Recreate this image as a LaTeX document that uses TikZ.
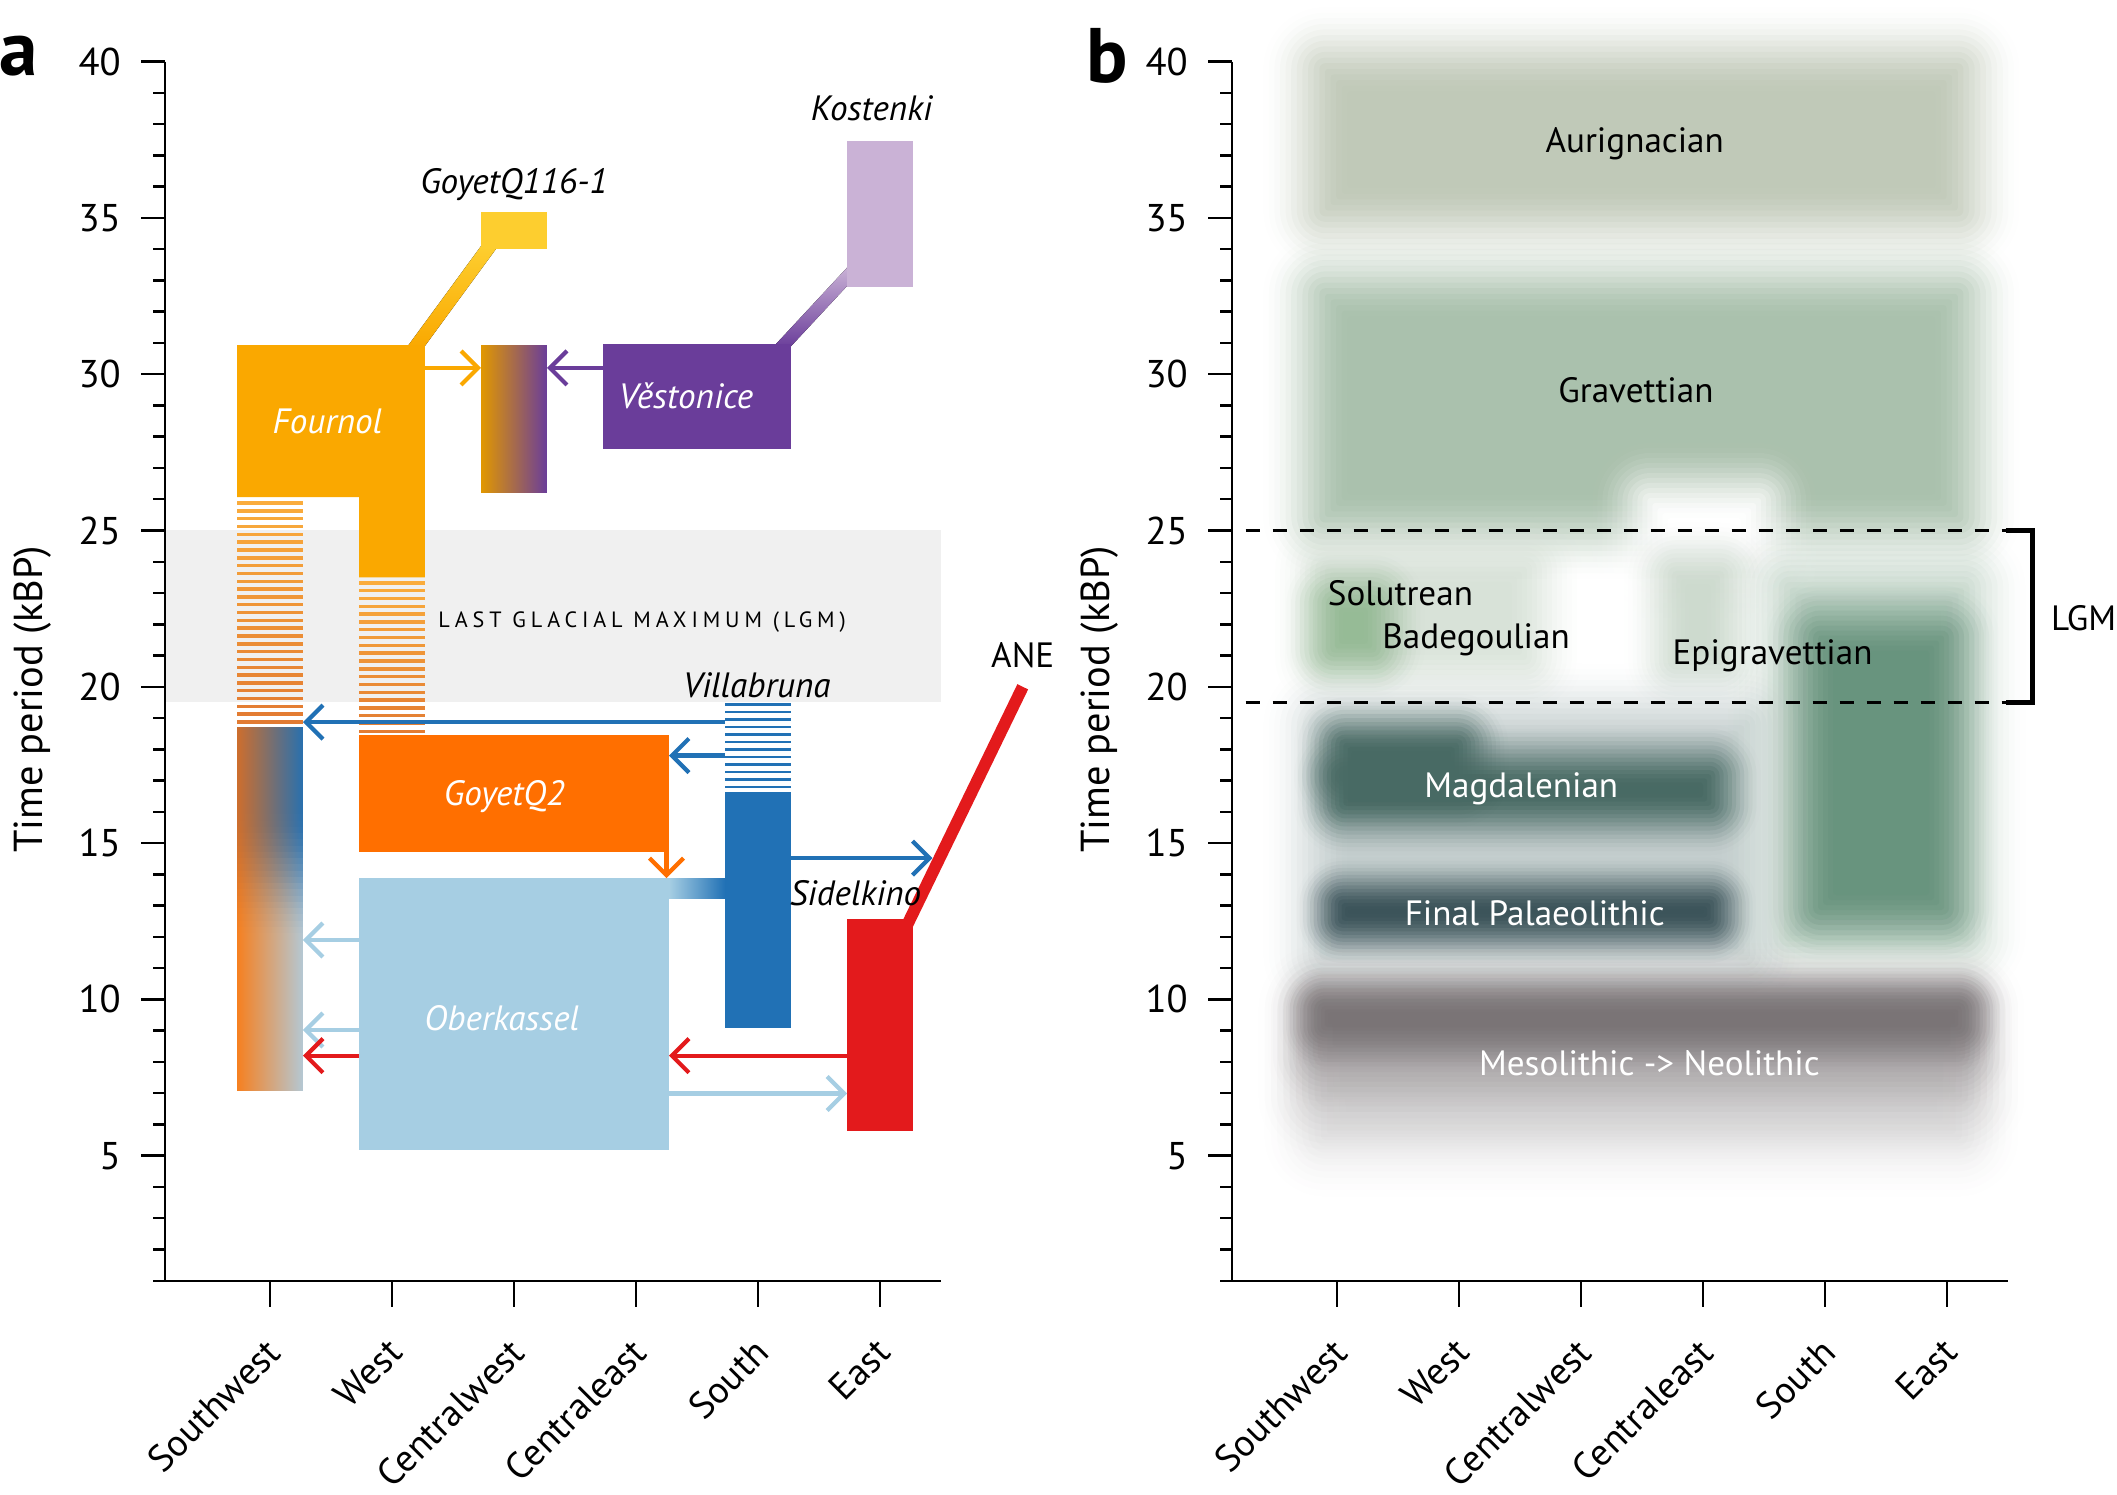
\documentclass[tikz,border=0pt]{standalone}
\usepackage{fontspec}
\setmainfont{PT Sans}
\usetikzlibrary{arrows.meta}

% panel a colours
\definecolor{fournolorange}{RGB}{250,168,0}
\definecolor{goyetyellow}{RGB}{253,206,47}
\definecolor{goyetqorange}{RGB}{255,111,0}
\definecolor{oberblue}{RGB}{166,206,227}
\definecolor{villablue}{RGB}{33,113,181}
\definecolor{anered}{RGB}{227,26,28}
\definecolor{vestpurple}{RGB}{106,61,154}
\definecolor{kostlilac}{RGB}{202,178,214}
\definecolor{lgmgray}{RGB}{240,240,240}
\definecolor{stripetop}{RGB}{250,172,60}
\definecolor{stripebot}{RGB}{226,122,50}
\definecolor{swbrown}{RGB}{205,110,45}
\definecolor{swblue}{RGB}{40,112,175}
\definecolor{swpale}{RGB}{180,200,212}
\definecolor{swbase}{RGB}{246,128,32}
% panel b colours
\definecolor{auricol}{RGB}{192,201,184}
\definecolor{gravcol}{RGB}{170,193,173}
\definecolor{hazecol}{RGB}{216,226,216}
\definecolor{solucol}{RGB}{150,187,150}
\definecolor{cecol}{RGB}{205,218,206}
\definecolor{epihalo}{RGB}{192,211,198}
\definecolor{epicol}{RGB}{104,148,126}
\definecolor{magdhalo}{RGB}{196,206,206}
\definecolor{magdcol}{RGB}{72,106,100}
\definecolor{fpalcol}{RGB}{60,84,90}
\definecolor{mesocol}{RGB}{122,116,118}

\tikzset{
  mig/.style={line width=1.2pt,-{Straight Barb[length=1.7mm,width=3.4mm]}},
  popname/.style={font=\fontsize{10}{12}\selectfont\itshape},
  ticknum/.style={anchor=east,font=\fontsize{11}{13}\selectfont},
  regionlab/.style={rotate=45,anchor=east,font=\fontsize{10.7}{13}\selectfont},
  culture/.style={font=\fontsize{10}{12}\selectfont},
  axisline/.style={line width=0.7pt},
}

% axes of one panel, #1 = name prefix
\newcommand{\timeaxes}[1]{%
  \draw[axisline] (0.14,40) -- (0.14,1) -- (6.5,1);
  \draw[axisline] (0.14,1) -- ++(-1.2mm,0);
  \foreach \t in {2,...,39} \draw[axisline] (0.14,\t) -- ++(-1.2mm,0);
  \foreach \t in {5,10,...,40} {
    \draw[axisline] (0.14,\t) -- ++(-2.4mm,0);
    \node[ticknum] (#1num\t) at ([xshift=-3.2mm]0.14,\t) {\t};
  }
  \foreach \r [count=\i] in {Southwest,West,Centralwest,Centraleast,South,East} {
    \draw[axisline] (\i,1) -- ++(0,-2.6mm);
    \node[regionlab] (#1reg\i) at (\i+0.1,-0.8) {\r};
  }
  \node[rotate=90,font=\fontsize{11.5}{13}\selectfont] (#1title) at (-0.95,19.6) {Time period (kBP)};
}

% blurred block: [#1 blur radius in mm] #2 fill style, #3 lower left, #4 upper right (x,y)
\newcommand{\softbox}[4][4.5]{%
  \foreach \s in {1,...,16} {
    \pgfmathsetmacro{\tA}{(\s-1)/16}
    \pgfmathsetmacro{\tB}{\s/16}
    \pgfmathsetmacro{\cA}{3*\tA*\tA-2*\tA*\tA*\tA}
    \pgfmathsetmacro{\cB}{3*\tB*\tB-2*\tB*\tB*\tB}
    \pgfmathsetmacro{\alp}{1-(1-\cB)/(1-\cA)}
    \pgfmathsetmacro{\blurd}{#1-(\s-0.5)*2*#1/16}
    \pgfmathsetmacro{\rc}{max(0.3,\blurd+2)}
    \fill[#2,fill opacity=\alp,rounded corners=\rc mm]
      ([shift={(-\blurd mm,-\blurd mm)}]#3) rectangle ([shift={(\blurd mm,\blurd mm)}]#4);
  }
}

\begin{document}
\begin{tikzpicture}
\useasboundingbox (0,0) rectangle (21.17,14.94);

\node[font=\fontsize{22}{24}\selectfont\bfseries] (panela) at (0.19,14.38) {a};
\node[font=\fontsize{22}{24}\selectfont\bfseries] (panelb) at (11.07,14.38) {b};

%% panel a
\begin{scope}[xshift=1.48cm,yshift=1.82cm,x=1.22cm,y=0.3126cm]
  \fill[lgmgray] (0.14,19.5) rectangle (6.5,25);
  \node[font=\fontsize{6.3}{8}\selectfont\addfontfeatures{LetterSpace=22}] (lgmtext) at (4.05,22.07) {LAST GLACIAL MAXIMUM (LGM)};

  % links
  \fill[bottom color=fournolorange,top color=goyetyellow]
    (2.12,30.85) -- (2.26,30.85) -- (2.87,34.1) -- (2.73,34.1) -- cycle;
  \fill[bottom color=vestpurple,top color=kostlilac]
    (5.12,30.85) -- (5.26,30.85) -- (5.88,33.45) -- (5.74,33.45) -- cycle;
  \draw[anered,line width=3.4pt] (7.17,20.0) -- (6.2,12.2);

  % Fournol and West column
  \fill[fournolorange] (0.73,26.07) -- (0.73,30.93) -- (2.27,30.93) -- (2.27,23.5)
    -- (1.73,23.5) -- (1.73,26.07) -- cycle;
  \foreach \k in {0,...,28} {
    \pgfmathtruncatemacro{\pct}{100-\k*3.5}
    \fill[stripetop!\pct!stripebot] (0.73,25.93-\k*0.25) rectangle (1.27,25.82-\k*0.25);
  }
  \foreach \k in {0,...,19} {
    \pgfmathtruncatemacro{\pct}{100-\k*5}
    \fill[stripetop!\pct!stripebot] (1.73,23.38-\k*0.25) rectangle (2.27,23.27-\k*0.25);
  }
  % Southwest mixture, row by row
  \foreach \k in {0,...,57} {
    \pgfmathsetmacro{\yt}{18.7-\k*0.2}
    \pgfmathsetmacro{\vv}{max(0,min(1,(\yt-11.8)/4.2))}
    \pgfmathtruncatemacro{\pv}{100*(3*\vv*\vv-2*\vv*\vv*\vv)}
    \colorlet{rowleft}{swbrown!\pv!swbase}
    \colorlet{rowright}{swblue!\pv!swpale}
    \fill[left color=rowleft,right color=rowright] (0.73,\yt) rectangle (1.27,\yt-0.21);
  }

  \fill[goyetyellow] (2.73,34.0) rectangle (3.27,35.2);
  \fill[left color=fournolorange!90!black,right color=vestpurple] (2.73,26.2) rectangle (3.27,30.93);
  \fill[vestpurple] (3.73,27.6) rectangle (5.27,30.95);
  \fill[kostlilac] (5.73,32.8) rectangle (6.27,37.45);

  \fill[goyetqorange] (1.73,14.72) rectangle (4.27,18.46);
  \fill[oberblue] (1.73,5.18) rectangle (4.27,13.88);
  \fill[left color=oberblue,right color=villablue] (4.27,13.24) rectangle (4.73,13.86);

  % Villabruna column
  \foreach \k in {0,...,11}
    \fill[villablue] (4.73,19.48-\k*0.24) rectangle (5.27,19.39-\k*0.24);
  \fill[villablue] (4.73,9.08) rectangle (5.27,16.63);

  \fill[anered] (5.73,5.79) rectangle (6.27,12.57);

  % migrations
  \draw[mig,fournolorange] (2.27,30.2) -- (2.73,30.2);
  \draw[mig,vestpurple] (3.73,30.2) -- (3.27,30.2);
  \draw[mig,villablue] (4.73,18.87) -- (1.27,18.87);
  \draw[mig,villablue] (4.73,17.8) -- (4.27,17.8);
  \draw[mig,goyetqorange] (4.25,14.72) -- (4.25,13.88);
  \draw[mig,villablue] (5.27,14.52) -- (6.43,14.52);
  \draw[mig,oberblue] (1.73,11.9) -- (1.27,11.9);
  \draw[mig,oberblue] (1.73,9.02) -- (1.27,9.02);
  \draw[mig,anered] (1.73,8.2) -- (1.27,8.2);
  \draw[mig,anered] (5.73,8.2) -- (4.27,8.2);
  \draw[mig,oberblue] (4.27,6.99) -- (5.73,6.99);

  % names
  \node[popname,text=white] (fournol) at (1.47,28.5) {Fournol};
  \node[popname,text=white] (vestonice) at (4.41,29.3) {Věstonice};
  \node[popname,text=white] (goyetq2) at (2.92,16.5) {GoyetQ2};
  \node[popname,text=white] (oberkassel) at (2.9,9.4) {Oberkassel};
  \node[popname] (goyetq116) at (3.0,36.08) {GoyetQ116-1};
  \node[popname] (kostenki) at (5.93,38.5) {Kostenki};
  \node[popname] (villabruna) at (4.99,20.06) {Villabruna};
  \node[popname] (sidelkino) at (5.8,13.4) {Sidelkino};
  \node[culture] (ane) at (7.17,21.0) {ANE};

  \timeaxes{a}
\end{scope}

%% panel b
\begin{scope}[xshift=12.15cm,yshift=1.82cm,x=1.22cm,y=0.3126cm]
  \softbox{fill=auricol}{0.74,34.6}{6.25,40.4}
  \softbox{fill=gravcol}{0.74,24.8}{6.25,33.2}
  \softbox[4]{fill=hazecol}{0.76,20.3}{2.7,24.4}
  \softbox[4]{fill=white}{3.4,23.4}{4.62,26.6}
  \softbox[3.5]{fill=cecol}{3.62,20.2}{4.3,24.2}
  \softbox[3.5]{fill=solucol}{0.82,20.6}{1.45,23.3}
  \softbox{fill=epihalo}{4.55,11.4}{6.3,23.8}
  \softbox[4]{fill=epicol}{4.8,12.3}{6.12,22.2}
  \softbox{fill=magdhalo}{0.74,10.8}{4.5,19.4}
  \softbox[3.3]{fill=magdcol}{0.9,15.6}{4.22,17.8}
  \softbox[3.3]{fill=magdcol}{0.9,16.5}{2.15,18.8}
  \softbox[2.8]{fill=fpalcol}{0.88,11.9}{4.22,13.7}
  \softbox[5]{fill=mesocol!20!white}{0.74,5.0}{6.25,10.3}
  \softbox[5]{fill=mesocol!42!white}{0.74,6.3}{6.25,10.3}
  \softbox[4]{fill=mesocol!68!white}{0.74,7.6}{6.25,10.3}
  \softbox[2.8]{fill=mesocol}{0.74,8.5}{6.25,10.3}

  \draw[dash pattern=on 1.4mm off 1.3mm,line width=0.8pt] (0.25,25) -- (6.48,25);
  \draw[dash pattern=on 1.4mm off 1.3mm,line width=0.8pt] (0.25,19.5) -- (6.48,19.5);
  \draw[line width=1.2pt] (6.48,25) -- (6.7,25) -- (6.7,19.5) -- (6.48,19.5);
  \node[culture] (lgm) at (7.12,22.2) {LGM};

  \node[culture] (aurignacian) at (3.44,37.36) {Aurignacian};
  \node[culture] (gravettian) at (3.45,29.5) {Gravettian};
  \node[culture] (solutrean) at (1.52,23.0) {Solutrean};
  \node[culture] (badegoulian) at (2.14,21.5) {Badegoulian};
  \node[culture] (epigravettian) at (4.57,21.0) {Epigravettian};
  \node[culture,text=white] (magdalenian) at (2.51,16.73) {Magdalenian};
  \node[culture,text=white] (finalpal) at (2.62,12.76) {Final Palaeolithic};
  \node[culture,text=white] (mesolithic) at (3.56,7.97) {Mesolithic -> Neolithic};

  \timeaxes{b}
\end{scope}
\end{tikzpicture}
\end{document}
